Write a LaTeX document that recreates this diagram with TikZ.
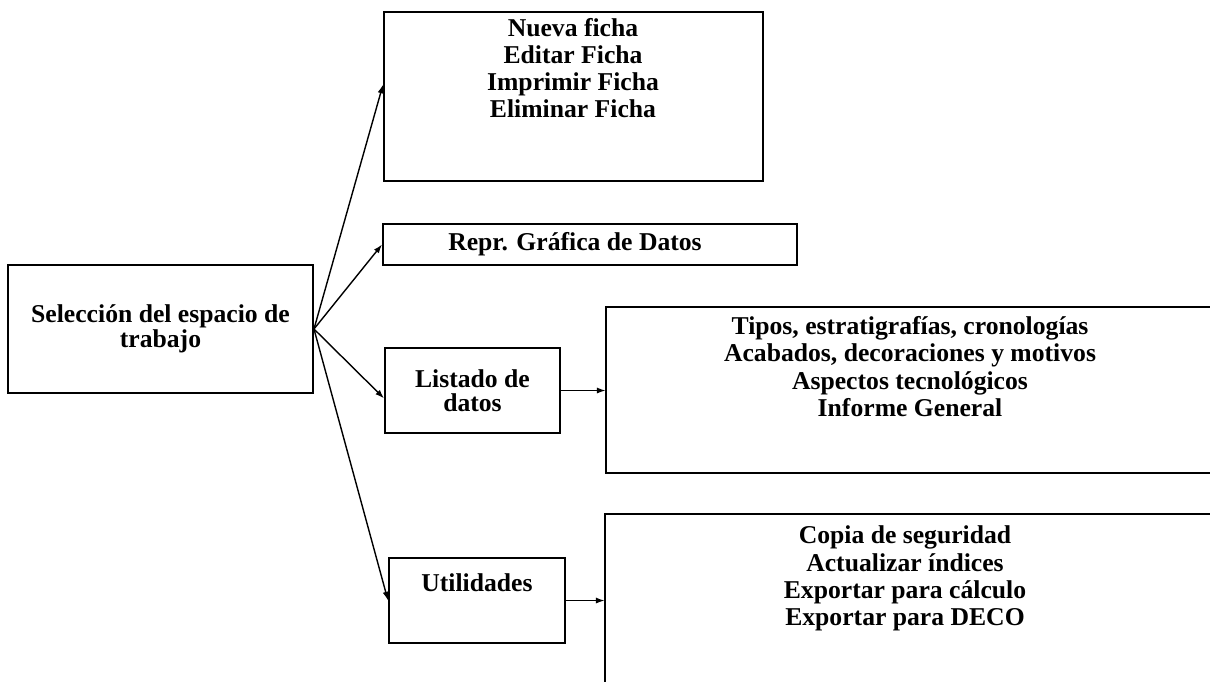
\documentclass[tikz,border=0pt]{standalone}
\usepackage{fontspec}
\setmainfont{Liberation Serif}
\usetikzlibrary{arrows.meta,calc}
\begin{document}
\begin{tikzpicture}[
  caja/.style={draw,line width=1.1pt,inner sep=0pt},
  texto/.style={align=center,font=\bfseries\fontsize{14.6}{15.5}\selectfont},
  flecha/.style={line width=0.8pt,-{Latex[length=5pt,width=3.5pt]}}]
\useasboundingbox (0,0) rectangle (24.2,-13.64);

\node[caja,texto,minimum width=6.1cm,minimum height=2.56cm,font=\bfseries\fontsize{14.6}{14}\selectfont](sel) at (3.21,-6.58) {Selección del espacio de\\trabajo};

\node[caja,minimum width=7.58cm,minimum height=3.38cm](fichas) at (11.47,-1.93) {};
\node[texto](fichas-t) at (11.46,-1.36) {Nueva ficha\\Editar Ficha\\Imprimir Ficha\\Eliminar Ficha};

\node[caja,minimum width=8.28cm,minimum height=0.82cm](repr) at (11.8,-4.89) {};
\node[texto](repr-t) at (11.5,-4.89) {Repr. Gráfica de Datos};

\node[caja,texto,minimum width=3.5cm,minimum height=1.7cm,font=\bfseries\fontsize{14.6}{13.6}\selectfont](listado) at (9.45,-7.81) {Listado de\\datos};

\node[caja,minimum width=3.52cm,minimum height=1.7cm](util) at (9.54,-12.01) {};
\node[texto](util-t) at (9.54,-11.66) {Utilidades};

\node[minimum width=12.08cm,minimum height=3.32cm,inner sep=0pt](tipos) at (18.16,-7.8) {};
\node[texto](tipos-t) at (18.2,-7.33) {Tipos, estratigrafías, cronologías\\Acabados, decoraciones y motivos\\Aspectos tecnológicos\\Informe General};
\draw[line width=1.1pt] (tipos.north east) -- (tipos.north west) -- (tipos.south west) -- (tipos.south east);

\node[minimum width=12.1cm,minimum height=3.36cm,inner sep=0pt](copia) at (18.15,-11.96) {};
\node[texto](copia-t) at (18.1,-11.57) {Copia de seguridad\\Actualizar índices\\Exportar para cálculo\\Exportar para DECO};
\draw[line width=1.1pt] (copia.north east) -- (copia.north west) -- (copia.south west);

\draw[flecha] (sel.east) -- ($(fichas.north west)!0.43!(fichas.south west)$);
\draw[flecha] (sel.east) -- (repr.west);
\draw[flecha] (sel.east) -- ($(listado.north west)!0.59!(listado.south west)$);
\draw[flecha] (sel.east) -- (util.west);
\draw[flecha] (listado.east) -- (listado.east -| tipos.west);
\draw[flecha] (util.east) -- (util.east -| copia.west);
\end{tikzpicture}
\end{document}
